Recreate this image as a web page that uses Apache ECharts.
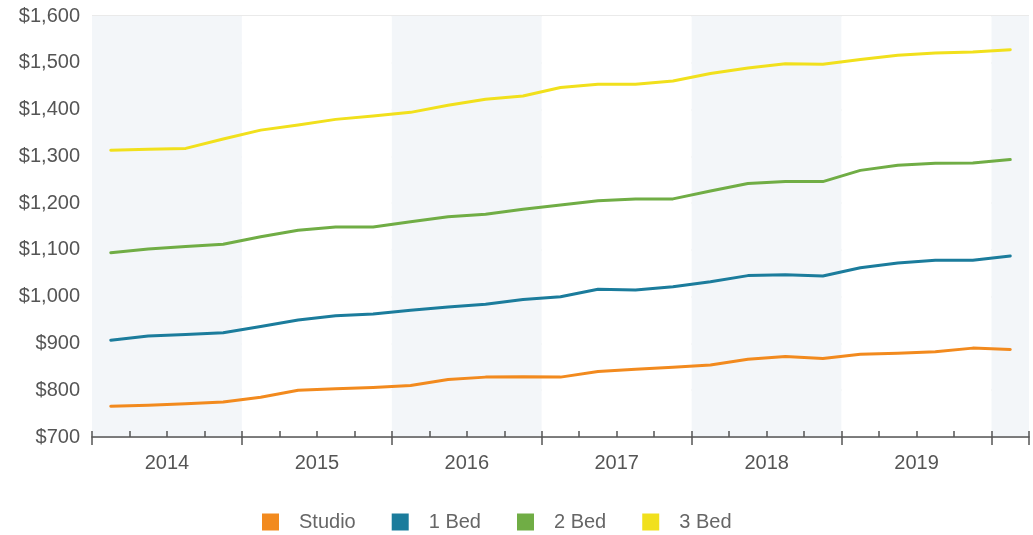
<!DOCTYPE html>
<html>
<head>
<meta charset="utf-8">
<script src="https://cdn.jsdelivr.net/npm/echarts@6/dist/echarts.min.js"></script>
<style>
  html, body { margin: 0; padding: 0; background: #fff; }
  #chart { width: 1033px; height: 535px; }
</style>
</head>
<body>
<div id="chart"></div>
<script>
// quarterly rents, 2014 Q1 .. 2020 Q1
const quarters = [
  '2014 Q1', '2014 Q2', '2014 Q3', '2014 Q4',
  '2015 Q1', '2015 Q2', '2015 Q3', '2015 Q4',
  '2016 Q1', '2016 Q2', '2016 Q3', '2016 Q4',
  '2017 Q1', '2017 Q2', '2017 Q3', '2017 Q4',
  '2018 Q1', '2018 Q2', '2018 Q3', '2018 Q4',
  '2019 Q1', '2019 Q2', '2019 Q3', '2019 Q4',
  '2020 Q1'
];
const years = ['2014', '2015', '2016', '2017', '2018', '2019'];

const studio = [766, 768, 771, 775, 785, 800, 803, 806, 810, 823, 828, 829, 828,
  840, 845, 849, 854, 866, 872, 868, 877, 879, 882, 890, 887];
const oneBed = [907, 916, 919, 923, 936, 950, 959, 963, 971, 978, 984, 994, 1000,
  1016, 1014, 1021, 1032, 1045, 1047, 1044, 1062, 1072, 1078, 1078, 1087];
const twoBed = [1094, 1102, 1107, 1112, 1128, 1142, 1149, 1149, 1160, 1171, 1176, 1187, 1196,
  1205, 1209, 1209, 1226, 1242, 1246, 1246, 1270, 1281, 1285, 1286, 1293];
const threeBed = [1313, 1315, 1317, 1337, 1356, 1367, 1379, 1386, 1394, 1409, 1422, 1429, 1447,
  1454, 1454, 1461, 1477, 1489, 1498, 1497, 1507, 1516, 1521, 1523, 1528];

const yTicks = { min: 700, max: 1600, step: 100 };

const seriesDefs = [
  { name: 'Studio', data: studio, color: '#f28a1e' },
  { name: '1 Bed', data: oneBed, color: '#1b7c9c' },
  { name: '2 Bed', data: twoBed, color: '#70ad45' },
  { name: '3 Bed', data: threeBed, color: '#f1e01c' }
];

const chart = echarts.init(document.getElementById('chart'));
const font = 'Liberation Sans, Arial, sans-serif';
const xMax = quarters.length;

// base axis shared settings
const baseX = {
  type: 'value',
  position: 'bottom',
  min: 0,
  max: xMax,
  splitLine: { show: false },
  axisLabel: { show: false },
  axisLine: { show: false },
  axisTick: { show: false }
};

chart.setOption({
  animation: false,
  textStyle: { fontFamily: font },
  grid: { left: 92, right: 4, top: 16, bottom: 98 },
  legend: {
    top: 507,
    left: 257,
    icon: 'rect',
    itemWidth: 17,
    itemHeight: 17,
    itemGap: 36,
    textStyle: { fontSize: 20, color: '#666', padding: [0, 0, 0, 15] },
    data: seriesDefs.map((s) => ({ name: s.name, itemStyle: { color: s.color } }))
  },
  xAxis: [
    // quarter ticks + axis line
    Object.assign({}, baseX, {
      interval: 1,
      axisLine: { show: true, lineStyle: { color: '#555', width: 1.5 } },
      axisTick: { show: true, inside: true, length: 6, lineStyle: { color: '#555', width: 1.5 } }
    }),
    // year ticks + shaded bands
    Object.assign({}, baseX, {
      interval: 4,
      axisTick: { show: true, inside: false, length: 8, lineStyle: { color: '#555', width: 1.5 } },
      splitArea: { show: true, areaStyle: { color: ['#f3f6f9', '#ffffff'] } }
    }),
    // year labels at mid-year
    Object.assign({}, baseX, {
      interval: 2,
      axisLabel: {
        show: true,
        margin: 16,
        fontSize: 20,
        color: '#555',
        formatter: (v) => (v % 4 === 2 ? years[(v - 2) / 4] || '' : '')
      }
    })
  ],
  yAxis: {
    type: 'value',
    min: yTicks.min,
    max: yTicks.max,
    interval: yTicks.step,
    axisLine: { show: false },
    axisTick: { show: false },
    splitLine: { lineStyle: { color: '#e3e3e3', width: 1.5 } },
    axisLabel: {
      margin: 12,
      fontSize: 20,
      color: '#555',
      formatter: (v) => '$' + v.toLocaleString('en-US')
    }
  },
  series: seriesDefs.map((s) => ({
    name: s.name,
    type: 'line',
    xAxisIndex: 0,
    symbol: 'none',
    lineStyle: { width: 3, color: s.color, join: 'round', cap: 'round' },
    itemStyle: { color: s.color },
    data: s.data.map((v, i) => [i + 0.5, v])
  }))
});
</script>
</body>
</html>
